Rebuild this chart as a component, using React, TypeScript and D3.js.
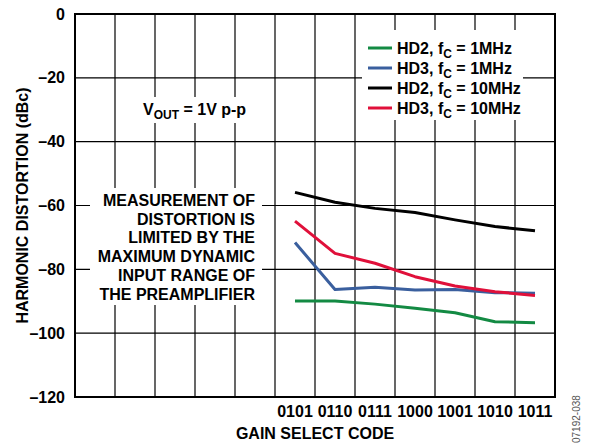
import React from "react";
import * as d3 from "d3";

const codes = ["0000","0001","0010","0011","0100","0101","0110","0111","1000","1001","1010","1011"];
const shownCodes = ["0101","0110","0111","1000","1001","1010","1011"];
const yTicks = [0, -20, -40, -60, -80, -100, -120];

const hd2_1M = [-89.9, -89.9, -90.9, -92.2, -93.6, -96.4, -96.7];
const hd3_1M = [-71.6, -86.3, -85.6, -86.5, -86.3, -87.3, -87.5];
const hd2_10M = [-55.9, -59.0, -60.9, -62.2, -64.5, -66.6, -67.9];
const hd3_10M = [-64.9, -75.0, -78.1, -82.3, -85.2, -87.0, -88.2];

const seriesNames = ["HD2", "HD3", "HD2", "HD3"];
const seriesFreq = ["1MHz", "1MHz", "10MHz", "10MHz"];
const seriesColors = ["#138a43", "#3a5f9e", "#000000", "#e0103a"];

const annotation = [
  "MEASUREMENT OF",
  "DISTORTION IS",
  "LIMITED BY THE",
  "MAXIMUM DYNAMIC",
  "INPUT RANGE OF",
  "THE PREAMPLIFIER",
];

const W = 591, H = 444;
const L = 75, R = 555, T = 14, B = 397;
const font = "Arial, 'Liberation Sans', Helvetica, sans-serif";
const FS = 16;
const SUB = 12;

export default function App() {
  const x = d3.scaleBand<string>().domain(codes).range([L, R]).padding(0);
  const y = d3.scaleLinear().domain([-120, 0]).range([B, T]);
  const cx = (c: string) => (x(c) as number) + x.bandwidth() / 2;
  const line = d3
    .line<number>()
    .x((_, i) => cx(shownCodes[i]))
    .y((d) => y(d));
  const allSeries = [hd2_1M, hd3_1M, hd2_10M, hd3_10M];

  return (
    <svg width={W} height={H} style={{ position: "absolute", left: 0, top: 0, background: "#fff" }}>
      <rect x={0} y={0} width={W} height={H} fill="#fff" />
      {/* grid */}
      {codes.slice(1).map((c) => (
        <line key={"v" + c} x1={x(c)} x2={x(c)} y1={T} y2={B} stroke="#000" strokeWidth={1.2} />
      ))}
      {yTicks.slice(1, -1).map((t) => (
        <line key={"h" + t} x1={L} x2={R} y1={y(t)} y2={y(t)} stroke="#000" strokeWidth={1.2} />
      ))}
      {/* white boxes */}
      <rect x={362} y={30} width={161} height={90} fill="#fff" />
      <rect x={138} y={97} width={114} height={26} fill="#fff" />
      <rect x={90} y={188} width={172} height={117} fill="#fff" />
      {/* frame */}
      <rect x={L} y={T} width={R - L} height={B - T} fill="none" stroke="#000" strokeWidth={2} />
      {/* series */}
      {allSeries.map((s, i) => (
        <path key={"s" + i} d={line(s) as string} fill="none" stroke={seriesColors[i]} strokeWidth={3} strokeLinejoin="round" />
      ))}
      {/* y ticks */}
      {yTicks.map((t) => (
        <text key={"yt" + t} x={65} y={y(t)} dy="0.35em" textAnchor="end" fontFamily={font} fontWeight="bold" fontSize={FS}>
          {t === 0 ? "0" : "\u2013" + Math.abs(t)}
        </text>
      ))}
      {/* x ticks */}
      {shownCodes.map((c) => (
        <text key={"xt" + c} x={cx(c)} y={417} textAnchor="middle" fontFamily={font} fontWeight="bold" fontSize={FS}>
          {c}
        </text>
      ))}
      <text x={(L + R) / 2} y={439} textAnchor="middle" fontFamily={font} fontWeight="bold" fontSize={FS}>
        GAIN SELECT CODE
      </text>
      <text transform={`translate(28,${(T + B) / 2}) rotate(-90)`} textAnchor="middle" fontFamily={font} fontWeight="bold" fontSize={FS}>
        HARMONIC DISTORTION (dBc)
      </text>
      {/* legend */}
      {allSeries.map((_, i) => (
        <g key={"lg" + i} transform={`translate(368,${48 + i * 20})`}>
          <line x1={0} x2={24} y1={0} y2={0} stroke={seriesColors[i]} strokeWidth={3} />
          <text x={29} y={0} dy="0.35em" fontFamily={font} fontWeight="bold" fontSize={FS}>
            {seriesNames[i]}, f
            <tspan fontSize={SUB} dy={4}>C</tspan>
            <tspan dy={-4}> = {seriesFreq[i]}</tspan>
          </text>
        </g>
      ))}
      {/* Vout */}
      <text x={143} y={115} fontFamily={font} fontWeight="bold" fontSize={FS}>
        V<tspan fontSize={SUB} dy={4}>OUT</tspan>
        <tspan dy={-4}> = 1V p-p</tspan>
      </text>
      {/* annotation */}
      {annotation.map((a, i) => (
        <text key={"an" + i} x={255} y={206 + i * 18.7} textAnchor="end" fontFamily={font} fontWeight="bold" fontSize={FS}>
          {a}
        </text>
      ))}
      <text transform={`translate(580,443) rotate(-90)`} fontFamily={font} fontSize={10} fill="#555">
        07192-038
      </text>
    </svg>
  );
}
